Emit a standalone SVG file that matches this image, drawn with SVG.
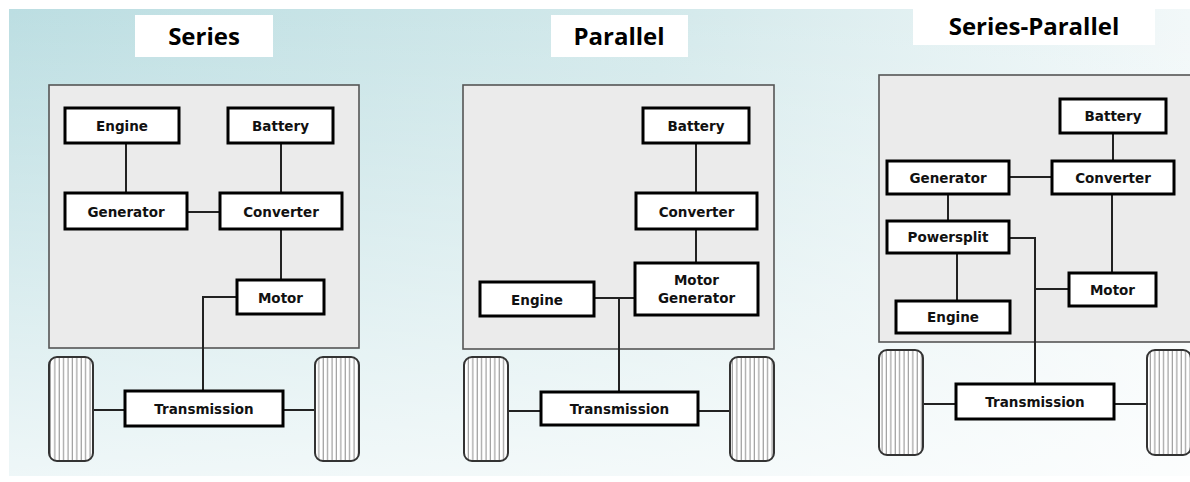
<svg xmlns="http://www.w3.org/2000/svg" width="1190" height="482" viewBox="0 0 1190 482">
<defs>
<linearGradient id="bgH" x1="0" y1="0" x2="1" y2="0">
<stop offset="0" stop-color="#bcdee2"/>
<stop offset="0.55" stop-color="#d3e9eb"/>
<stop offset="1" stop-color="#f2f8f9"/>
</linearGradient>
<linearGradient id="bgV" x1="0" y1="0" x2="0" y2="1">
<stop offset="0" stop-color="#ffffff" stop-opacity="0"/>
<stop offset="1" stop-color="#ffffff" stop-opacity="0.75"/>
</linearGradient>
<pattern id="tread" width="4.4" height="10" patternUnits="userSpaceOnUse">
<rect width="4.4" height="10" fill="#ffffff"/>
<line x1="2" y1="0" x2="2" y2="10" stroke="#8a8a8a" stroke-width="1"/>
</pattern>
<style>
.title{font-family:"Open Sans","Liberation Sans",sans-serif;font-weight:700;font-size:24px;fill:#000;text-anchor:middle}
.tbox{fill:#ffffff}
.panel{fill:#ebebeb;stroke:#555;stroke-width:1.6}
.box{fill:#ffffff;stroke:#000;stroke-width:3}
.lbl{font-family:"DejaVu Sans","Liberation Sans",sans-serif;font-weight:700;font-size:13.5px;fill:#111;text-anchor:middle;dominant-baseline:central}
.wire{fill:none;stroke:#222;stroke-width:2}
.wheel{fill:url(#tread);stroke:#333;stroke-width:2}
</style>
</defs>
<rect x="0" y="0" width="1190" height="482" fill="#ffffff"/>
<rect x="9" y="9" width="1181" height="467" fill="url(#bgH)"/>
<rect x="9" y="9" width="1181" height="467" fill="url(#bgV)"/>

<!-- Titles -->
<g id="title-series"><rect class="tbox" x="135" y="15" width="138" height="42"/><text class="title" x="204" y="45">Series</text></g>
<g id="title-parallel"><rect class="tbox" x="551" y="15" width="137" height="42"/><text class="title" x="619" y="45">Parallel</text></g>
<g id="title-sp"><rect class="tbox" x="913" y="8" width="242" height="37"/><text class="title" x="1034" y="35">Series-Parallel</text></g>

<!-- Panels -->
<rect class="panel" x="49" y="85" width="310" height="263"/>
<rect class="panel" x="463" y="85" width="311" height="264"/>
<rect class="panel" x="879" y="75" width="320" height="267"/>

<!-- Connectors -->
<g id="connectors">
<!-- Series -->
<line class="wire" x1="126" y1="143" x2="126" y2="193"/>
<line class="wire" x1="281" y1="143" x2="281" y2="193"/>
<line class="wire" x1="187" y1="212" x2="220" y2="212"/>
<line class="wire" x1="281" y1="229" x2="281" y2="280"/>
<polyline class="wire" points="237,297 203,297 203,391"/>
<line class="wire" x1="93" y1="410" x2="125" y2="410"/>
<line class="wire" x1="283" y1="410" x2="315" y2="410"/>
<!-- Parallel -->
<line class="wire" x1="696" y1="143" x2="696" y2="193"/>
<line class="wire" x1="696" y1="229" x2="696" y2="263"/>
<line class="wire" x1="594" y1="298" x2="635" y2="298"/>
<line class="wire" x1="619" y1="298" x2="619" y2="392"/>
<line class="wire" x1="508" y1="411" x2="541" y2="411"/>
<line class="wire" x1="698" y1="411" x2="730" y2="411"/>
<!-- Series-Parallel -->
<line class="wire" x1="1113" y1="133" x2="1113" y2="161"/>
<line class="wire" x1="1009" y1="177" x2="1052" y2="177"/>
<line class="wire" x1="948" y1="194" x2="948" y2="221"/>
<line class="wire" x1="1112" y1="194" x2="1112" y2="273"/>
<polyline class="wire" points="1009,238 1035,238 1035,384"/>
<line class="wire" x1="1035" y1="289" x2="1069" y2="289"/>
<line class="wire" x1="957" y1="253" x2="957" y2="301"/>
<line class="wire" x1="923" y1="404" x2="956" y2="404"/>
<line class="wire" x1="1114" y1="404" x2="1147" y2="404"/>
</g>

<!-- Series nodes -->
<g id="s-engine"><rect class="box" x="65" y="108" width="114" height="35"/><text class="lbl" x="122" y="126">Engine</text></g>
<g id="s-battery"><rect class="box" x="228" y="108" width="105" height="35"/><text class="lbl" x="280.5" y="126">Battery</text></g>
<g id="s-generator"><rect class="box" x="65" y="193" width="122" height="36"/><text class="lbl" x="126" y="211.5">Generator</text></g>
<g id="s-converter"><rect class="box" x="220" y="193" width="122" height="36"/><text class="lbl" x="281" y="211.5">Converter</text></g>
<g id="s-motor"><rect class="box" x="237" y="280" width="87" height="34"/><text class="lbl" x="280.5" y="297.5">Motor</text></g>
<g id="s-transmission"><rect class="box" x="125" y="391" width="158" height="35"/><text class="lbl" x="204" y="409">Transmission</text></g>
<g id="s-wheel-l"><rect class="wheel" x="49" y="357" width="44" height="104" rx="8"/></g>
<g id="s-wheel-r"><rect class="wheel" x="315" y="357" width="44" height="104" rx="8"/></g>

<!-- Parallel nodes -->
<g id="p-battery"><rect class="box" x="643" y="108" width="106" height="35"/><text class="lbl" x="696" y="126">Battery</text></g>
<g id="p-converter"><rect class="box" x="636" y="193" width="121" height="36"/><text class="lbl" x="696.5" y="211.5">Converter</text></g>
<g id="p-motorgen"><rect class="box" x="635" y="263" width="123" height="52"/><text class="lbl" x="696.5" y="280">Motor</text><text class="lbl" x="696.5" y="298">Generator</text></g>
<g id="p-engine"><rect class="box" x="480" y="282" width="114" height="34"/><text class="lbl" x="537" y="299.5">Engine</text></g>
<g id="p-transmission"><rect class="box" x="541" y="392" width="157" height="33"/><text class="lbl" x="619.5" y="408.5">Transmission</text></g>
<g id="p-wheel-l"><rect class="wheel" x="464" y="357" width="44" height="104" rx="8"/></g>
<g id="p-wheel-r"><rect class="wheel" x="730" y="357" width="44" height="104" rx="8"/></g>

<!-- Series-Parallel nodes -->
<g id="sp-battery"><rect class="box" x="1060" y="99" width="106" height="34"/><text class="lbl" x="1113" y="116">Battery</text></g>
<g id="sp-generator"><rect class="box" x="887" y="161" width="122" height="33"/><text class="lbl" x="948" y="177.5">Generator</text></g>
<g id="sp-converter"><rect class="box" x="1052" y="161" width="122" height="33"/><text class="lbl" x="1113" y="177.5">Converter</text></g>
<g id="sp-powersplit"><rect class="box" x="887" y="221" width="122" height="32"/><text class="lbl" x="948" y="237">Powersplit</text></g>
<g id="sp-motor"><rect class="box" x="1069" y="273" width="87" height="33"/><text class="lbl" x="1112.5" y="289.5">Motor</text></g>
<g id="sp-engine"><rect class="box" x="896" y="301" width="114" height="32"/><text class="lbl" x="953" y="317">Engine</text></g>
<g id="sp-transmission"><rect class="box" x="956" y="384" width="158" height="35"/><text class="lbl" x="1035" y="401.5">Transmission</text></g>
<g id="sp-wheel-l"><rect class="wheel" x="879" y="350" width="44" height="105" rx="8"/></g>
<g id="sp-wheel-r"><rect class="wheel" x="1147" y="350" width="44" height="105" rx="8"/></g>
</svg>
